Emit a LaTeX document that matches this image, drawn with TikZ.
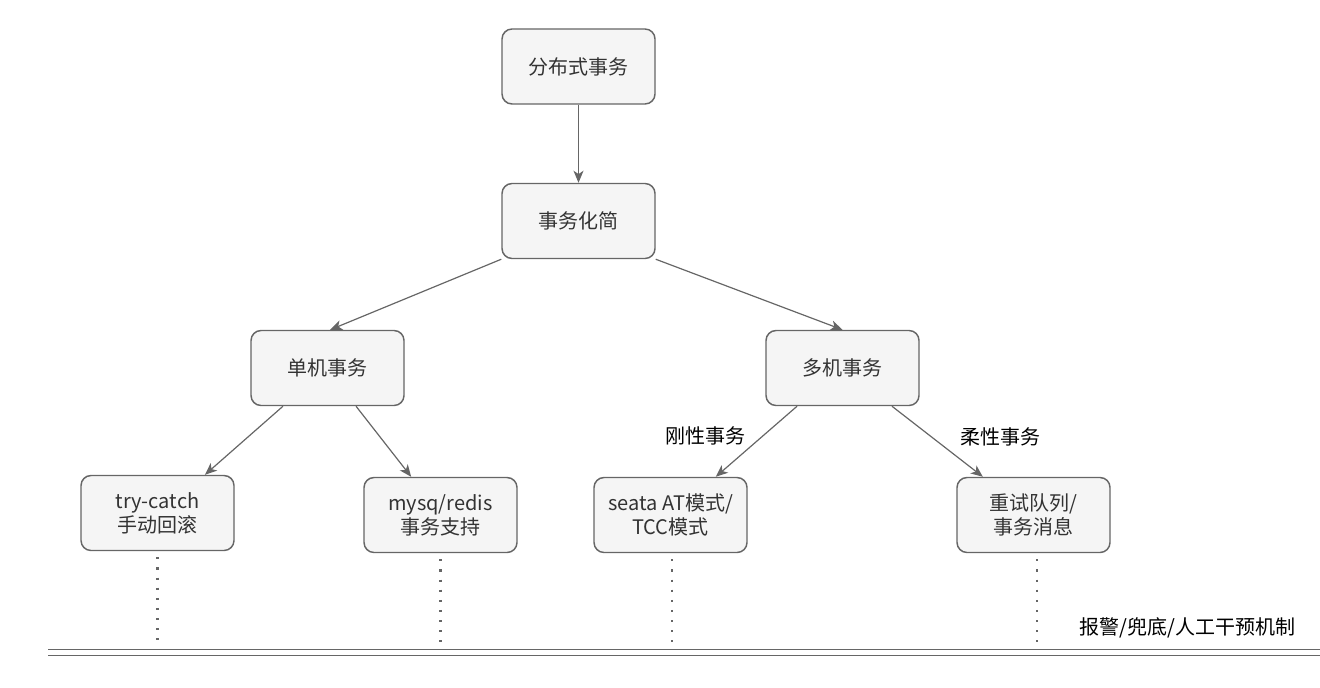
\documentclass[tikz,border=0pt]{standalone}
\usepackage{fontspec}
\setmainfont{Noto Sans CJK SC}
\usepackage{xcolor}
\usetikzlibrary{arrows.meta,positioning,calc}
\definecolor{boxfill}{HTML}{F5F5F5}
\definecolor{boxline}{HTML}{666666}
\definecolor{boxtext}{HTML}{333333}
\tikzset{
  taskbox/.style={
    rectangle, rounded corners=7.5pt, draw=boxline, fill=boxfill, line width=1.1pt,
    minimum width=114.75pt, minimum height=56.25pt,
    font=\fontsize{15}{18}\selectfont, text=boxtext, align=center,
    inner sep=3pt
  },
  flowarrow/.style={
    -{Stealth[length=9pt,width=7.5pt,inset=2.5pt]}, line width=0.9pt, color=boxline
  },
  sidelabel/.style={font=\fontsize{15}{18}\selectfont, text=black, inner sep=0pt},
  guardline/.style={line width=1.6pt, color=boxline, dash pattern=on 1.6pt off 6pt},
  baseline/.style={line width=0.9pt, color=boxline},
}

\begin{document}
\begin{tikzpicture}[x=0.75pt, y=-0.75pt]
  \useasboundingbox (0,0) rectangle (1320,688);
  \node[taskbox] at (578.5,66.5) (root) {分布式事务};
  \node[taskbox] at (578.5,221) (simp) {事务化简};
  \draw[flowarrow] (root) -- (simp);
  \node[taskbox] at (327.5,368) (single) {单机事务};
  \node[taskbox] at (842.5,368) (multi) {多机事务};
  \draw[flowarrow] (simp.south west) -- ([xshift=2pt]single.north);
  \draw[flowarrow] (simp.south east) -- (multi.north);
  \node[taskbox] at (157.5,513) (trycatch) {try-catch\\手动回滚};
  \node[taskbox] at (440.5,515) (dbtx) {mysq/redis\\事务支持};
  \node[taskbox] at (670.5,515) (seata) {seata AT模式/\\TCC模式};
  \node[taskbox] at (1033.5,515) (retry) {重试队列/\\事务消息};
  \draw[flowarrow] ([xshift=-33.4pt]single.south) -- ([xshift=35.6pt]trycatch.north);
  \draw[flowarrow] ([xshift=21.4pt]single.south) -- ([xshift=-22pt]dbtx.north);
  \draw[flowarrow] ([xshift=-34.1pt]multi.south) -- ([xshift=34pt]seata.north);
  \draw[flowarrow] ([xshift=37.1pt]multi.south) -- ([xshift=-38pt]retry.north);
  \node[sidelabel] at (705,436) (hard) {刚性事务};
  \node[sidelabel] at (1000,437) (soft) {柔性事务};
  % fallback line
  \coordinate (baseL) at (48,649.5);
  \coordinate (baseR) at (1320,649.5);
  \coordinate (dotend) at (48,644);
  \draw[baseline] (baseL) -- (baseR);
  \draw[baseline] ([yshift=-4.2pt]baseL) -- ([yshift=-4.2pt]baseR);
  \node[sidelabel] at (1187.5,628) (guard) {报警/兜底/人工干预机制};
  \draw[guardline] (trycatch.south) ++(0,6) -- (trycatch.south |- dotend);
  \draw[guardline] (dbtx.south) ++(0,6) -- (dbtx.south |- dotend);
  \draw[guardline] ([xshift=1.2pt]seata.south) ++(0,6) -- ([xshift=1.2pt]seata.south |- dotend);
  \draw[guardline] ([xshift=2.6pt]retry.south) ++(0,6) -- ([xshift=2.6pt]retry.south |- dotend);
\end{tikzpicture}
\end{document}
